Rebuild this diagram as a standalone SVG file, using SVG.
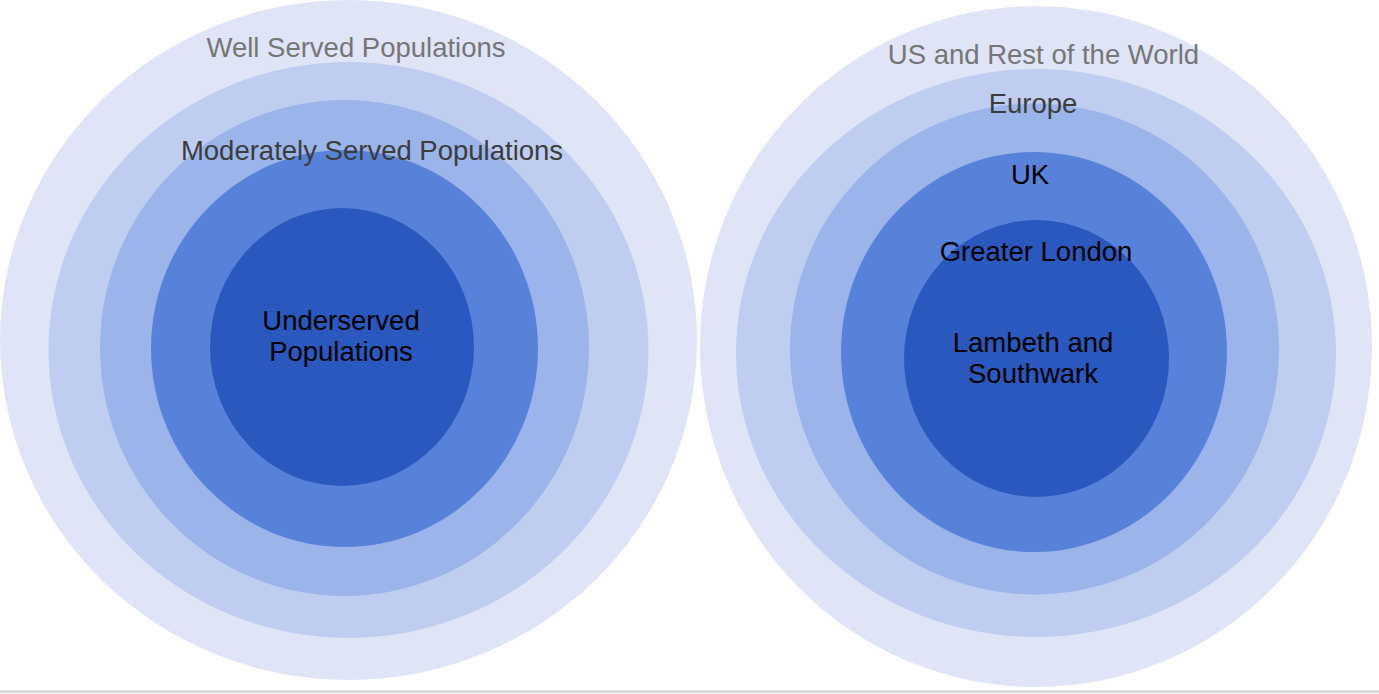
<svg xmlns="http://www.w3.org/2000/svg" width="1379" height="694" viewBox="0 0 1379 694">
<style>
.r1{fill:#dfe5f7}.r2{fill:#bfcdf0}.r3{fill:#9bb4e9}.r4{fill:#5882d9}.r5{fill:#2a58bf}
text{font-family:"Liberation Sans",Arial,sans-serif;font-size:27.5px;text-anchor:middle}
.g{fill:#767676}.d{fill:#3c3c3c}.k{fill:#000}
</style>
<rect x="0" y="0" width="1379" height="694" fill="#ffffff"/>
<g id="left">
<g id="well-served"><ellipse class="r1" cx="348.5" cy="340" rx="348.5" ry="340"/></g>
<g id="left-ring2"><ellipse class="r2" cx="348.5" cy="350" rx="300" ry="288"/></g>
<g id="left-ring3"><ellipse class="r3" cx="344.5" cy="348" rx="244.5" ry="248"/></g>
<g id="left-ring4"><ellipse class="r4" cx="344.5" cy="348.5" rx="193.5" ry="198.5"/></g>
<g id="underserved"><ellipse class="r5" cx="342" cy="347" rx="132" ry="139"/></g>
<text class="g" x="356" y="57">Well Served Populations</text>
<text class="d" x="372" y="160">Moderately Served Populations</text>
<text class="k" x="341" y="330">Underserved</text>
<text class="k" x="341" y="361">Populations</text>
</g>
<g id="right">
<g id="world"><ellipse class="r1" cx="1036" cy="346.5" rx="336" ry="340.5"/></g>
<g id="europe"><ellipse class="r2" cx="1036" cy="353" rx="300" ry="284"/></g>
<g id="uk"><ellipse class="r3" cx="1034.5" cy="349" rx="244.5" ry="245.5"/></g>
<g id="greater-london"><ellipse class="r4" cx="1034" cy="352" rx="193" ry="200"/></g>
<g id="lambeth"><ellipse class="r5" cx="1036.5" cy="358.5" rx="132.5" ry="138.5"/></g>
<text class="g" x="1043.5" y="64">US and Rest of the World</text>
<text class="d" x="1033" y="113">Europe</text>
<text class="k" x="1030" y="184">UK</text>
<text class="k" x="1036" y="261">Greater London</text>
<text class="k" x="1033" y="352">Lambeth and</text>
<text class="k" x="1033" y="383">Southwark</text>
</g>
<g id="connectors"/>
<rect x="0" y="690.5" width="1379" height="2" fill="#cdcdcd"/>
<rect x="0" y="692.5" width="1379" height="1.5" fill="#ededed"/>
</svg>
